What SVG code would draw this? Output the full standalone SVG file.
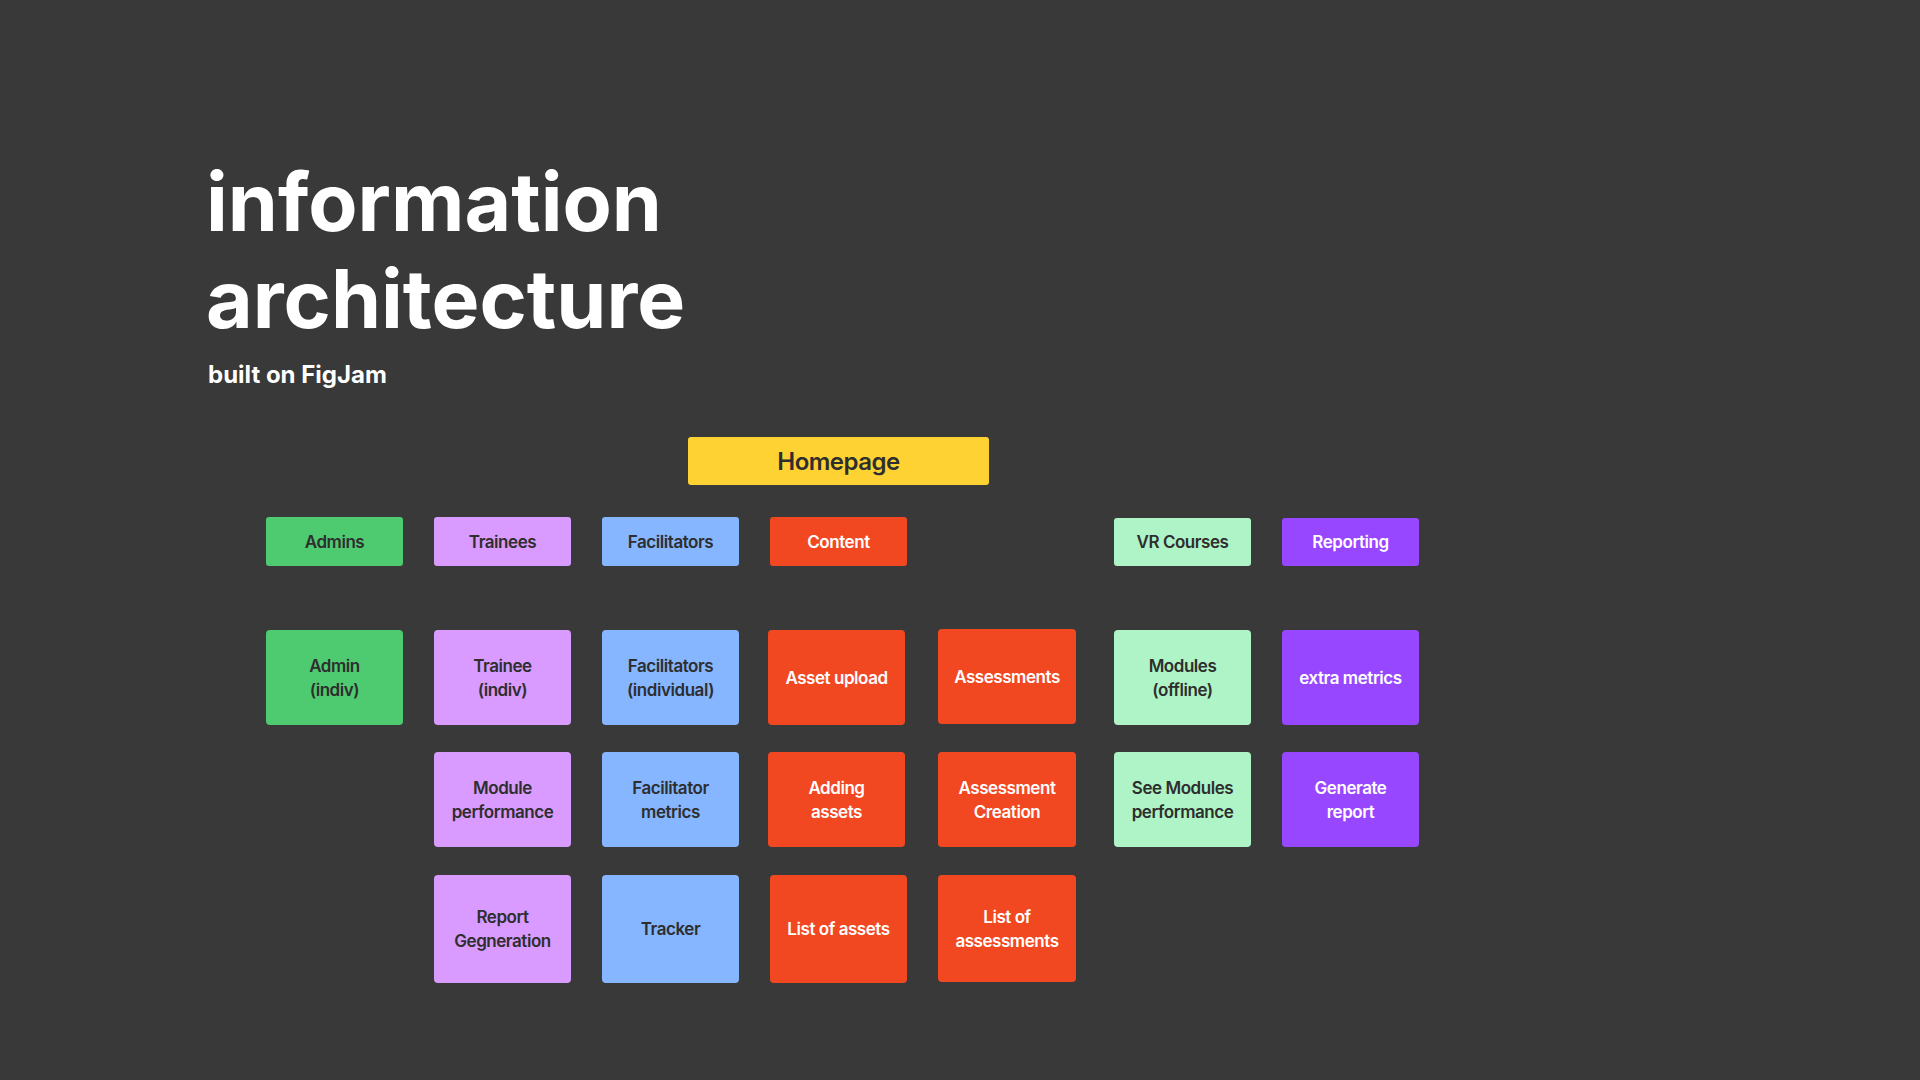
<svg xmlns="http://www.w3.org/2000/svg" width="1920" height="1080" viewBox="0 0 1920 1080">
  <style>
    .title { font-family: Inter, "Liberation Sans", sans-serif; font-weight: 700; fill: #ffffff; }
    .lbl { font-family: Inter, "Liberation Sans", sans-serif; font-weight: 600; font-size: 17px; letter-spacing: -0.45px; text-anchor: middle; }
    .dark { fill: #2e2e2e; }
    .light { fill: #ffffff; }
    .green { fill: #4ecb71; }
    .violet { fill: #d99bff; }
    .blue { fill: #85b6ff; }
    .red { fill: #f24822; }
    .mint { fill: #aff4c6; }
    .purple { fill: #9747ff; }
    .yellow { fill: #ffd234; }
  </style>
  <rect width="1920" height="1080" fill="#393939"/>

  <!-- heading -->
  <text class="title" x="206" y="231" font-size="80.5">information</text>
  <text class="title" x="206" y="328" font-size="80.5">architecture</text>
  <text class="title" x="208" y="383" font-size="24">built on FigJam</text>

  <!-- root -->
  <g id="homepage">
    <rect class="yellow" x="688" y="437" width="301" height="48" rx="3"/>
    <text class="lbl dark" x="838.5" y="469.5" style="font-size:24px;letter-spacing:-0.5px">Homepage</text>
  </g>

  <!-- section headers -->
  <g id="admins">
    <rect class="green" x="266" y="517" width="137" height="49" rx="3"/>
    <text class="lbl dark" x="334.5" y="548">Admins</text>
  </g>
  <g id="trainees">
    <rect class="violet" x="434" y="517" width="137" height="49" rx="3"/>
    <text class="lbl dark" x="502.5" y="548">Trainees</text>
  </g>
  <g id="facilitators">
    <rect class="blue" x="602" y="517" width="137" height="49" rx="3"/>
    <text class="lbl dark" x="670.5" y="548">Facilitators</text>
  </g>
  <g id="content">
    <rect class="red" x="770" y="517" width="137" height="49" rx="3"/>
    <text class="lbl light" x="838.5" y="548">Content</text>
  </g>
  <g id="vr-courses">
    <rect class="mint" x="1114" y="518" width="137" height="48" rx="3"/>
    <text class="lbl dark" x="1182.5" y="548">VR Courses</text>
  </g>
  <g id="reporting">
    <rect class="purple" x="1282" y="518" width="137" height="48" rx="3"/>
    <text class="lbl light" x="1350.5" y="548">Reporting</text>
  </g>

  <!-- row 1 -->
  <g id="admin-indiv">
    <rect class="green" x="266" y="630" width="137" height="95" rx="4"/>
    <text class="lbl dark" x="334.5" y="672">Admin</text>
    <text class="lbl dark" x="334.5" y="696">(indiv)</text>
  </g>
  <g id="trainee-indiv">
    <rect class="violet" x="434" y="630" width="137" height="95" rx="4"/>
    <text class="lbl dark" x="502.5" y="672">Trainee</text>
    <text class="lbl dark" x="502.5" y="696">(indiv)</text>
  </g>
  <g id="facilitators-individual">
    <rect class="blue" x="602" y="630" width="137" height="95" rx="4"/>
    <text class="lbl dark" x="670.5" y="672">Facilitators</text>
    <text class="lbl dark" x="670.5" y="696">(individual)</text>
  </g>
  <g id="asset-upload">
    <rect class="red" x="768" y="630" width="137" height="95" rx="4"/>
    <text class="lbl light" x="836.5" y="684">Asset upload</text>
  </g>
  <g id="assessments">
    <rect class="red" x="938" y="629" width="138" height="95" rx="4"/>
    <text class="lbl light" x="1007" y="683">Assessments</text>
  </g>
  <g id="modules-offline">
    <rect class="mint" x="1114" y="630" width="137" height="95" rx="4"/>
    <text class="lbl dark" x="1182.5" y="672">Modules</text>
    <text class="lbl dark" x="1182.5" y="696">(offline)</text>
  </g>
  <g id="extra-metrics">
    <rect class="purple" x="1282" y="630" width="137" height="95" rx="4"/>
    <text class="lbl light" x="1350.5" y="684">extra metrics</text>
  </g>

  <!-- row 2 -->
  <g id="module-performance">
    <rect class="violet" x="434" y="752" width="137" height="95" rx="4"/>
    <text class="lbl dark" x="502.5" y="794">Module</text>
    <text class="lbl dark" x="502.5" y="818">performance</text>
  </g>
  <g id="facilitator-metrics">
    <rect class="blue" x="602" y="752" width="137" height="95" rx="4"/>
    <text class="lbl dark" x="670.5" y="794">Facilitator</text>
    <text class="lbl dark" x="670.5" y="818">metrics</text>
  </g>
  <g id="adding-assets">
    <rect class="red" x="768" y="752" width="137" height="95" rx="4"/>
    <text class="lbl light" x="836.5" y="794">Adding</text>
    <text class="lbl light" x="836.5" y="818">assets</text>
  </g>
  <g id="assessment-creation">
    <rect class="red" x="938" y="752" width="138" height="95" rx="4"/>
    <text class="lbl light" x="1007" y="794">Assessment</text>
    <text class="lbl light" x="1007" y="818">Creation</text>
  </g>
  <g id="see-modules-performance">
    <rect class="mint" x="1114" y="752" width="137" height="95" rx="4"/>
    <text class="lbl dark" x="1182.5" y="794">See Modules</text>
    <text class="lbl dark" x="1182.5" y="818">performance</text>
  </g>
  <g id="generate-report">
    <rect class="purple" x="1282" y="752" width="137" height="95" rx="4"/>
    <text class="lbl light" x="1350.5" y="794">Generate</text>
    <text class="lbl light" x="1350.5" y="818">report</text>
  </g>

  <!-- row 3 -->
  <g id="report-generation">
    <rect class="violet" x="434" y="875" width="137" height="108" rx="4"/>
    <text class="lbl dark" x="502.5" y="923">Report</text>
    <text class="lbl dark" x="502.5" y="947">Gegneration</text>
  </g>
  <g id="tracker">
    <rect class="blue" x="602" y="875" width="137" height="108" rx="4"/>
    <text class="lbl dark" x="670.5" y="935">Tracker</text>
  </g>
  <g id="list-of-assets">
    <rect class="red" x="770" y="875" width="137" height="108" rx="4"/>
    <text class="lbl light" x="838.5" y="935">List of assets</text>
  </g>
  <g id="list-of-assessments">
    <rect class="red" x="938" y="875" width="138" height="107" rx="4"/>
    <text class="lbl light" x="1007" y="923">List of</text>
    <text class="lbl light" x="1007" y="947">assessments</text>
  </g>

  <!-- no connectors are drawn between the cards -->
  <g id="connectors"/>
</svg>
